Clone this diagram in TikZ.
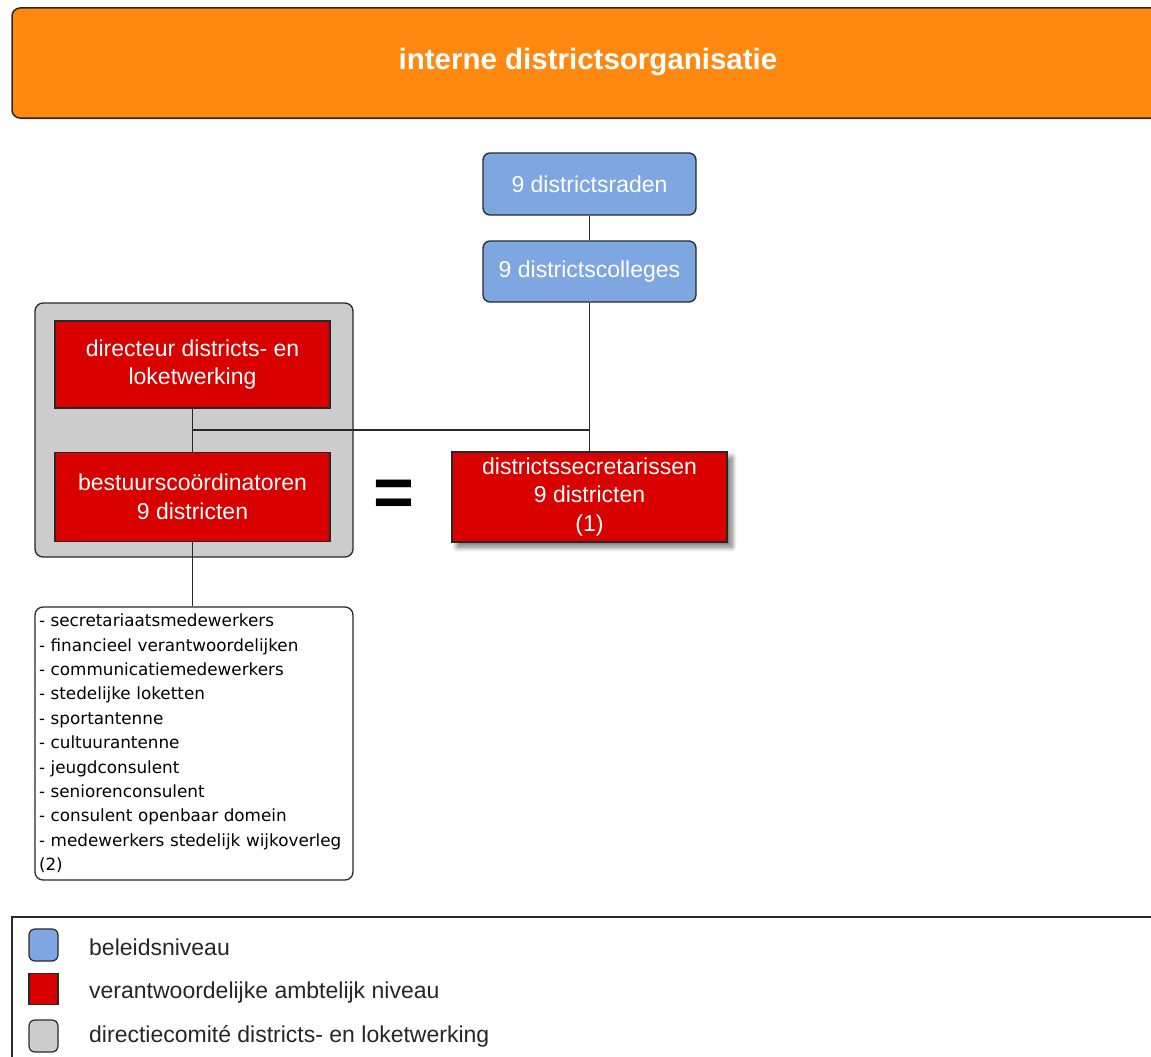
\documentclass[tikz,border=0pt]{standalone}
\usepackage{fontspec}
\setmainfont{Liberation Sans}
\newfontfamily\listfont{DejaVu Sans}
\usetikzlibrary{shadows,shadows.blur}
\definecolor{hdrorange}{RGB}{255,136,17}
\definecolor{polblue}{RGB}{126,166,224}
\definecolor{offred}{RGB}{217,0,0}
\definecolor{dirgray}{RGB}{204,204,204}
\definecolor{edgegray}{RGB}{40,40,40}
\tikzset{
  boxbase/.style={draw=edgegray, line width=1.3pt, inner sep=0pt, align=center, text=white,
    font=\fontsize{23}{28.5}\selectfont},
  bluebox/.style={boxbase, fill=polblue, rounded corners=7pt},
  redbox/.style={boxbase, fill=offred},
  graybox/.style={draw=edgegray, line width=1.3pt, fill=dirgray, rounded corners=8pt, inner sep=0pt},
  listbox/.style={draw=edgegray, line width=1.3pt, fill=white, rounded corners=8pt, inner sep=3pt,
    align=left, font=\listfont\fontsize{16.8}{24.4}\selectfont, text=black},
  conn/.style={draw=edgegray, line width=1.3pt},
  legtext/.style={anchor=west, inner sep=0pt, font=\fontsize{23}{26}\selectfont, text=black!85},
  swatch/.style={draw=edgegray, line width=1.2pt, minimum width=29pt, minimum height=32pt, inner sep=0pt},
}
\begin{document}
\begin{tikzpicture}[x=1pt,y=-1pt]
\useasboundingbox (0,0) rectangle (1151,1057);
\clip (0,0) rectangle (1151,1057);
% header
\draw[draw=edgegray, line width=1.5pt, fill=hdrorange, rounded corners=8pt,
  drop shadow={opacity=0.25, shadow xshift=1pt, shadow yshift=-1.5pt}]
  (12,8) rectangle (1175,118);
\node[text=white, font=\bfseries\fontsize{29.5}{32}\selectfont] (title) at (588,62) {interne districtsorganisatie};
% policy level
\node[bluebox, minimum width=213pt, minimum height=62pt] (raden) at (589.5,184) {9 districtsraden};
\node[bluebox, minimum width=213pt, minimum height=61pt] (colleges) at (589.5,271.5) {9 districtscolleges};
% directiecomite
\node[graybox, minimum width=318pt, minimum height=254pt] (dircom) at (194,430) {};
\node[redbox, minimum width=275pt, minimum height=87pt] (directeur) at (192.5,364.5) {directeur districts- en\\loketwerking};
\node[redbox, minimum width=275pt, minimum height=89pt] (bestuur) at (192.5,497) {bestuurscoördinatoren\\9 districten};
\node[redbox, minimum width=275pt, minimum height=90pt,
  blur shadow={shadow blur steps=12, shadow blur radius=5pt, shadow xshift=5pt, shadow yshift=-5pt, shadow opacity=55}] (secr) at (589.5,497) {districtssecretarissen\\9 districten\\(1)};
\node[font=\bfseries\fontsize{70}{70}\selectfont, inner sep=0pt] (eq) at (394,498) {=};
% list
\node[listbox, minimum width=318pt, minimum height=273pt, text width=310pt] (staff) at (194,743.5) {%
- secretariaatsmedewerkers\\
- financieel verantwoordelijken\\
- communicatiemedewerkers\\
- stedelijke loketten\\
- sportantenne\\
- cultuurantenne\\
- jeugdconsulent\\
- seniorenconsulent\\
- consulent openbaar domein\\
- medewerkers stedelijk wijkoverleg\\
(2)};
% connectors
\coordinate (junc) at (192.5,430);
\draw[conn] (raden.south) -- (colleges.north);
\draw[conn] (colleges.south) -- (secr.north);
\draw[conn] (directeur.south) -- (bestuur.north);
\draw[conn] (junc) -- (junc -| secr.north);
\draw[conn] (bestuur.south) -- (bestuur.south |- staff.north);
% legend
\draw[draw=edgegray, line width=2pt] (12,917) rectangle (1175,1075);
\node[swatch, fill=polblue, rounded corners=6pt] (lgblue) at (43.5,945) {};
\node[swatch, fill=offred, minimum height=31pt] (lgred) at (43.5,989) {};
\node[swatch, fill=dirgray, rounded corners=6pt] (lggray) at (43.5,1036) {};
\node[legtext] (lt1) at (89,947) {beleidsniveau};
\node[legtext] (lt2) at (89,993) {verantwoordelijke ambtelijk niveau};
\node[legtext] (lt3) at (89,1036) {directiecomité districts- en loketwerking};
\end{tikzpicture}
\end{document}
